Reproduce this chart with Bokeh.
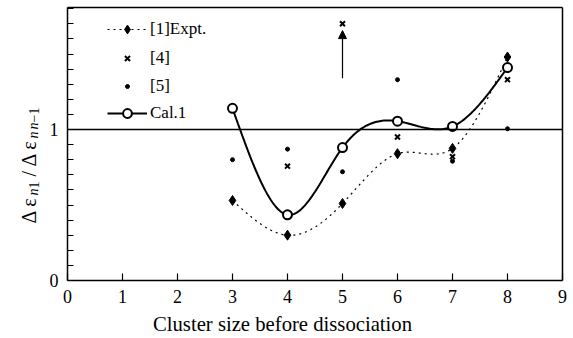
import numpy as np
from bokeh.plotting import figure
from bokeh.models import (Range1d, FixedTicker, Arrow, NormalHead, Legend,
                          LegendItem, Label, LinearAxis)
from bokeh.embed import file_html
from bokeh.resources import INLINE

# ---- data ----
cluster_size = [3, 4, 5, 6, 7, 8]
expt_ref1 = [0.53, 0.30, 0.51, 0.84, 0.875, 1.48]
ref4_x = [4, 5, 6, 7, 8]
ref4_y = [0.757, 1.70, 0.95, 0.82, 1.33]
ref5_x = [3, 4, 5, 6, 7, 8]
ref5_y = [0.80, 0.87, 0.72, 1.33, 0.79, 1.005]
cal1 = [1.14, 0.435, 0.88, 1.055, 1.02, 1.41]
arrow_x = 5
arrow_start = 1.34
arrow_end = 1.655
x_ticks = list(range(0, 10))
y_ticks = [0, 1]
y_minor = [round(0.1 * i, 1) for i in range(1, 19)]
X_MIN, X_MAX = 0, 9
Y_MIN, Y_MAX = 0, 1.808
REF_LEVEL = 1

SERIF = "Liberation Serif"

# page-pixel geometry of the axes box (x=0 at 67px, 55px/unit; y=0 at 280px, 151px/unit)
PX0, PXU, PY0, PYU = 67.0, 55.0, 280.0, 151.0
W, H = 573, 338


def to_x(px):
    return (px - PX0) / PXU


def to_y(py):
    return (PY0 - py) / PYU


def natural_spline(xs, ys, n=40):
    xs = np.asarray(xs, float)
    ys = np.asarray(ys, float)
    m = len(xs)
    h = np.diff(xs)
    A = np.zeros((m, m))
    b = np.zeros(m)
    A[0, 0] = A[-1, -1] = 1
    for i in range(1, m - 1):
        A[i, i - 1] = h[i - 1]
        A[i, i] = 2 * (h[i - 1] + h[i])
        A[i, i + 1] = h[i]
        b[i] = 6 * ((ys[i + 1] - ys[i]) / h[i] - (ys[i] - ys[i - 1]) / h[i - 1])
    M = np.linalg.solve(A, b)
    out_x, out_y = [], []
    for i in range(m - 1):
        t = np.linspace(xs[i], xs[i + 1], n, endpoint=(i == m - 2))
        a = xs[i + 1] - t
        c = t - xs[i]
        y = (M[i] * a ** 3 + M[i + 1] * c ** 3) / (6 * h[i]) \
            + (ys[i] / h[i] - M[i] * h[i] / 6) * a \
            + (ys[i + 1] / h[i] - M[i + 1] * h[i] / 6) * c
        out_x.extend(t)
        out_y.extend(y)
    return out_x, out_y


p = figure(width=W, height=H, output_backend="svg", toolbar_location=None,
           x_range=Range1d(to_x(0), to_x(W)), y_range=Range1d(to_y(H), to_y(0)),
           x_axis_location=None, y_axis_location=None,
           min_border=0, min_border_left=0, min_border_right=0,
           min_border_top=0, min_border_bottom=0)
p.grid.visible = False
p.outline_line_color = None
p.background_fill_color = "white"
p.border_fill_color = "white"


def style_axis(ax):
    ax.axis_line_width = 1.5
    ax.axis_line_color = "black"
    ax.major_tick_in = 7
    ax.major_tick_out = 0
    ax.major_tick_line_width = 1.2
    ax.major_tick_line_color = "black"
    ax.minor_tick_in = 6
    ax.minor_tick_out = 0
    ax.minor_tick_line_width = 1.2
    ax.minor_tick_line_color = "black"
    ax.major_label_text_font = SERIF
    ax.major_label_text_font_size = "18px"
    ax.major_label_text_color = "black"


xb = LinearAxis(fixed_location=Y_MIN, bounds=(X_MIN, X_MAX),
                ticker=FixedTicker(ticks=x_ticks))
style_axis(xb)
xb.minor_tick_line_color = None
xb.major_label_standoff = 9
p.add_layout(xb, "below")

yl = LinearAxis(fixed_location=X_MIN, bounds=(Y_MIN, Y_MAX),
                ticker=FixedTicker(ticks=y_ticks, minor_ticks=y_minor))
style_axis(yl)
yl.major_label_standoff = 9
p.add_layout(yl, "left")

# frame edges (top / right) and the reference level, drawn as plain axis rules
for loc, bnds, place in [(Y_MAX, (X_MIN, X_MAX), "above"),
                         (X_MAX, (Y_MIN, Y_MAX), "right"),
                         (REF_LEVEL, (X_MIN, X_MAX), "above")]:
    ax = LinearAxis(fixed_location=loc, bounds=bnds, ticker=FixedTicker(ticks=[]))
    ax.axis_line_width = 1.5
    ax.axis_line_color = "black"
    ax.major_tick_line_color = None
    ax.minor_tick_line_color = None
    ax.major_label_text_color = None
    p.add_layout(ax, place)

# curves
ex, ey = natural_spline(cluster_size, expt_ref1)
cx, cy = natural_spline(cluster_size, cal1)
expt_line = p.line(ex, ey, line_color="black", line_width=1.2, line_dash="2 4")
expt_pts = p.scatter(cluster_size, expt_ref1, marker="diamond", size=10,
                     fill_color="black", line_color="black")
r4 = p.scatter(ref4_x, ref4_y, marker="x", size=7, line_color="black", line_width=2)
r5 = p.scatter(ref5_x, ref5_y, marker="circle", size=4, fill_color="black",
               line_color="black")
cal_line = p.line(cx, cy, line_color="black", line_width=2)
cal_pts = p.scatter(cluster_size, cal1, marker="circle", size=9, fill_color="white",
                    line_color="black", line_width=2)

p.add_layout(Arrow(end=NormalHead(size=8, fill_color="black", line_color="black"),
                   x_start=arrow_x, y_start=arrow_start, x_end=arrow_x, y_end=arrow_end,
                   line_color="black", line_width=1.2))

# legend: one Legend per row so each key glyph keeps its own size
rows = [
    ("[1]Expt.", [expt_line, expt_pts], 22, 28, 12),
    ("[4]", [r4], 18, 56, 12),
    ("[5]", [r5], 10, 84, 12),
    ("Cal.1", [cal_line, cal_pts], 22, 112, 12),
]
for label, rends, gh, row_py, off in rows:
    lg = Legend(items=[LegendItem(label=label, renderers=rends)],
                location=(107, int(H - row_py - off)), margin=0, padding=0,
                glyph_width=40, glyph_height=gh, label_height=20,
                label_standoff=3, label_text_font=SERIF,
                label_text_font_size="17px", label_text_color="black",
                label_text_baseline="middle",
                background_fill_alpha=0, border_line_alpha=0)
    p.add_layout(lg)

# x-axis title
p.add_layout(Label(x=to_x(282), y=to_y(323), text="Cluster size before dissociation",
                   text_font=SERIF, text_font_size="20.7px", text_align="center",
                   text_baseline="middle", text_color="black"))

# rotated y-axis title built from pieces: (text, size, style, baseline px, start px)
pieces = [
    ("Δ ε", 20, "normal", 28, 223),
    ("n", 14, "italic", 33, 195),
    ("1", 14, "normal", 33, 188),
    ("/", 20, "normal", 28, 176),
    ("Δ ε", 20, "normal", 28, 166),
    ("n", 14, "italic", 33, 138),
    ("n", 14, "italic", 33, 129),
    ("−1", 14, "normal", 33, 122),
]
for txt, fs, style, bx, sy in pieces:
    p.add_layout(Label(x=to_x(bx), y=to_y(sy), text=txt, angle=np.pi / 2,
                       text_font=SERIF, text_font_size=f"{fs}px",
                       text_font_style=style, text_align="left",
                       text_baseline="alphabetic", text_color="black"))

open("out.html", "w").write(file_html(p, INLINE))
